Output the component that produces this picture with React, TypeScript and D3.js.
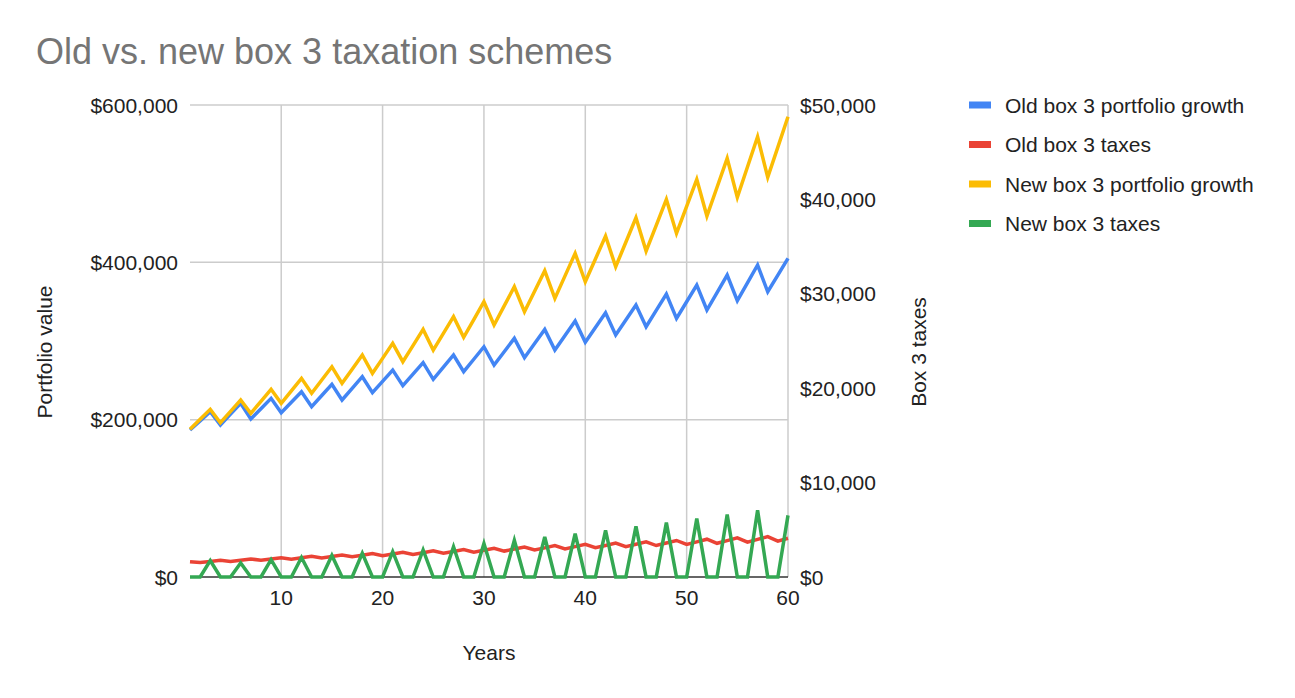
import { useEffect, useRef } from 'react'
import * as d3 from 'd3'

const TITLE = 'Old vs. new box 3 taxation schemes'

const YEARS = d3.range(1, 61)

const OLD_PORTFOLIO = [
  186900, 198500, 210100, 193200, 207000, 220800, 200800, 214000, 227100, 208800,
  222100, 235500, 216500, 230700, 244900, 225000, 239800, 254600, 234300, 248700,
  263100, 243200, 257800, 272400, 251300, 266700, 282200, 261000, 276800, 292700,
  269500, 286400, 303400, 278800, 296800, 314800, 288500, 307000, 325400, 298300,
  317100, 335900, 307600, 326600, 345700, 318100, 338900, 359700, 328800, 349900,
  371100, 339400, 361600, 383800, 351200, 373900, 396600, 362600, 383800, 405100,
]

const OLD_TAXES = [
  1620, 1525, 1640, 1765, 1650, 1775, 1910, 1775, 1905, 2050,
  1895, 2040, 2195, 2020, 2175, 2335, 2140, 2305, 2480, 2265,
  2440, 2620, 2385, 2570, 2765, 2510, 2700, 2905, 2630, 2830,
  3045, 2745, 2960, 3180, 2865, 3085, 3320, 2980, 3215, 3455,
  3100, 3340, 3595, 3215, 3470, 3730, 3335, 3595, 3870, 3450,
  3725, 4005, 3570, 3850, 4145, 3685, 3980, 4280, 3800, 4100,
]

const NEW_PORTFOLIO = [
  187700, 200400, 213100, 196100, 210500, 225000, 208000, 223300, 238600, 220800,
  236600, 252500, 233500, 250400, 267300, 246200, 264200, 282200, 258900, 277900,
  297000, 273700, 294200, 314800, 288500, 309700, 330900, 304600, 327200, 349900,
  320300, 344600, 369000, 337200, 363200, 389300, 354200, 382800, 411400, 375300,
  404300, 433400, 394400, 425500, 456700, 414300, 447100, 480000, 436800, 471100,
  505500, 458800, 495500, 532200, 482600, 521100, 559600, 508000, 546500, 585000,
]

const NEW_TAXES = [
  0, 0, 1750, 0, 0, 1480, 0, 0, 1840, 0,
  0, 2070, 0, 0, 2280, 0, 0, 2510, 0, 0,
  2680, 0, 0, 2860, 0, 0, 3210, 0, 0, 3540,
  0, 0, 3890, 0, 0, 4240, 0, 0, 4590, 0,
  0, 4950, 0, 0, 5370, 0, 0, 5760, 0, 0,
  6180, 0, 0, 6610, 0, 0, 7060, 0, 0, 6530,
]

const X_TICKS = [10, 20, 30, 40, 50, 60]
const LEFT_TICKS = [0, 200000, 400000, 600000]
const RIGHT_TICKS = [0, 10000, 20000, 30000, 40000, 50000]

type Series = { name: string; color: string; values: number[]; axis: 'left' | 'right' }

const SERIES: Series[] = [
  { name: 'Old box 3 portfolio growth', color: '#4285F4', values: OLD_PORTFOLIO, axis: 'left' },
  { name: 'Old box 3 taxes', color: '#EA4335', values: OLD_TAXES, axis: 'right' },
  { name: 'New box 3 portfolio growth', color: '#FBBC04', values: NEW_PORTFOLIO, axis: 'left' },
  { name: 'New box 3 taxes', color: '#34A853', values: NEW_TAXES, axis: 'right' },
]

const FONT = 'Arial, "Liberation Sans", Helvetica, sans-serif'

export default function App() {
  const svgRef = useRef<SVGSVGElement>(null)

  useEffect(() => {
    const svgEl = svgRef.current
    if (!svgEl) return
    const width = 1295
    const height = 698
    const plot = { left: 190, right: 788, top: 105, bottom: 577 }

    const svg = d3.select(svgEl)
    svg.selectAll('*').remove()
    svg.attr('width', width).attr('height', height)

    svg.append('rect').attr('width', width).attr('height', height).attr('fill', '#fff')

    const x = d3.scaleLinear().domain([1, 60]).range([plot.left, plot.right])
    const yLeft = d3.scaleLinear().domain([0, 600000]).range([plot.bottom, plot.top])
    const yRight = d3.scaleLinear().domain([0, 50000]).range([plot.bottom, plot.top])
    const money = (v: number) => '$' + d3.format(',')(v)

    // Title
    svg.append('text')
      .attr('x', 36).attr('y', 64)
      .attr('fill', '#757575')
      .style('font-family', FONT)
      .style('font-size', '36px')
      .text(TITLE)

    // Grid
    const grid = svg.append('g')
    LEFT_TICKS.filter(t => t > 0).forEach(t => {
      grid.append('line')
        .attr('x1', plot.left).attr('x2', plot.right)
        .attr('y1', yLeft(t)).attr('y2', yLeft(t))
        .attr('stroke', '#cccccc').attr('stroke-width', 1.5)
    })
    X_TICKS.forEach(t => {
      grid.append('line')
        .attr('x1', x(t)).attr('x2', x(t))
        .attr('y1', plot.top).attr('y2', plot.bottom)
        .attr('stroke', '#cccccc').attr('stroke-width', 1.5)
    })

    // Baseline
    svg.append('line')
      .attr('x1', plot.left).attr('x2', plot.right)
      .attr('y1', plot.bottom).attr('y2', plot.bottom)
      .attr('stroke', '#333333').attr('stroke-width', 1.5)

    // Tick labels
    const tickStyle = (sel: d3.Selection<SVGTextElement, unknown, null, undefined>) =>
      sel.attr('fill', '#222222').style('font-family', FONT).style('font-size', '21px')

    LEFT_TICKS.forEach(t => {
      svg.append('text')
        .attr('x', 178).attr('y', yLeft(t))
        .attr('text-anchor', 'end').attr('dy', '0.36em')
        .call(tickStyle)
        .text(money(t))
    })
    RIGHT_TICKS.forEach(t => {
      svg.append('text')
        .attr('x', 800).attr('y', yRight(t))
        .attr('text-anchor', 'start').attr('dy', '0.36em')
        .call(tickStyle)
        .text(money(t))
    })
    X_TICKS.forEach(t => {
      svg.append('text')
        .attr('x', x(t)).attr('y', 605)
        .attr('text-anchor', 'middle')
        .call(tickStyle)
        .text(String(t))
    })

    // Axis titles
    svg.append('text')
      .attr('x', 489).attr('y', 660)
      .attr('text-anchor', 'middle')
      .call(tickStyle)
      .text('Years')
    svg.append('text')
      .attr('transform', `translate(52,352) rotate(-90)`)
      .attr('text-anchor', 'middle')
      .call(tickStyle)
      .text('Portfolio value')
    svg.append('text')
      .attr('transform', `translate(926,352) rotate(-90)`)
      .attr('text-anchor', 'middle')
      .call(tickStyle)
      .text('Box 3 taxes')

    // Lines
    SERIES.forEach(s => {
      const yScale = s.axis === 'left' ? yLeft : yRight
      const line = d3.line<number>()
        .x((_, i) => x(YEARS[i]))
        .y(d => yScale(d))
      svg.append('path')
        .attr('d', line(s.values) ?? '')
        .attr('fill', 'none')
        .attr('stroke', s.color)
        .attr('stroke-width', 3.5)
    })

    // Legend
    SERIES.forEach((s, i) => {
      const ly = 105 + i * 39.5
      svg.append('rect')
        .attr('x', 969).attr('y', ly - 3.5)
        .attr('width', 22).attr('height', 7)
        .attr('fill', s.color)
      svg.append('text')
        .attr('x', 1005).attr('y', ly)
        .attr('dy', '0.36em')
        .call(tickStyle)
        .text(s.name)
    })
  }, [])

  return (
    <div style={{ position: 'absolute', left: 0, top: 0 }}>
      <svg ref={svgRef} style={{ display: 'block' }} />
    </div>
  )
}
